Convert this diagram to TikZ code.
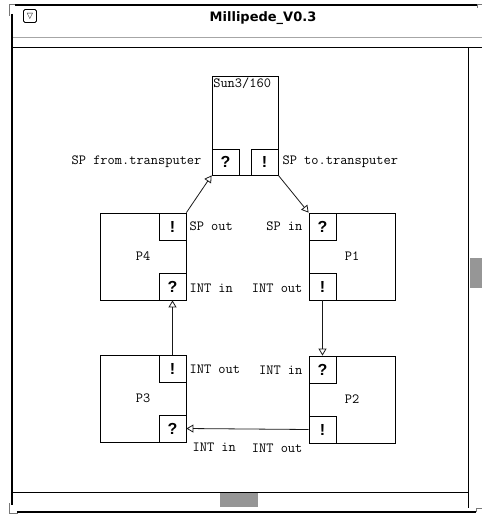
\documentclass[tikz,border=0pt]{standalone}
\usepackage{fontspec}
\usepackage{tikz}
\usetikzlibrary{arrows.meta, positioning, calc}
\newfontfamily\portfont{Liberation Sans}
\newfontfamily\titlefont{DejaVu Sans}
\definecolor{cFrame}{RGB}{120,120,120}
\definecolor{cThumb}{RGB}{150,150,150}
\tikzset{
	proc/.style   ={rectangle, draw=black, line width=0.8pt, minimum width=86pt, minimum height=87pt, inner sep=0pt, font=\ttfamily\fontsize{14}{16}\selectfont},
	host/.style   ={rectangle, draw=black, line width=0.8pt, minimum width=66pt, minimum height=99pt, inner sep=0pt},
	port/.style   ={rectangle, draw=black, line width=0.8pt, minimum width=27pt, minimum height=27pt, inner sep=0pt, font=\portfont\bfseries\fontsize{16}{16}\selectfont},
	lbl/.style    ={inner sep=0pt, font=\ttfamily\fontsize{14}{16}\selectfont},
	link/.style   ={-{Triangle[open, length=7pt, width=8pt]}, line width=0.8pt, black!90},
	winline/.style={line width=2.4pt, black},
}
\begin{document}
\begin{tikzpicture}[x=1pt, y=-1pt]
	\useasboundingbox (0,0) rectangle (482,516);
	% window frame
	\draw[cFrame, line width=0.8pt] (9,16) -- (9,4) -- (16,4);
	\draw[cFrame, line width=0.8pt] (9,503) -- (9,513) -- (18,513);
	\draw[cFrame, line width=0.8pt] (477,8) -- (477,4) -- (482,4);
	\draw[cFrame, line width=0.8pt] (476,512) -- (476,508) -- (482,508);
	\draw[winline] (15,5) -- (477,5);
	\draw[winline] (12,14) -- (12,505);
	\draw[winline] (17,512) -- (476,512);
	\draw[black!35, line width=0.6pt] (13,37) -- (482,37);
	\draw[line width=0.8pt] (13,47) -- (482,47);
	\draw[line width=0.8pt] (468,47) -- (468,508);
	\draw[line width=0.8pt] (13,492) -- (468,492);
	\fill[cThumb] (220,493) rectangle (258,507);
	\fill[cThumb] (470,258) rectangle (482,288);
	\node[draw, rounded corners=1.5pt, line width=0.9pt, minimum size=13pt, inner sep=0pt, font=\titlefont\fontsize{8}{8}\selectfont] (menu) at (30,16) {▽};
	\node[font=\titlefont\bfseries\fontsize{13}{13}\selectfont] (title) at (263,18) {Millipede\_V0.3};
	% host and processors
	\node[host] (sun) at (245,125.5) {};
	\node[anchor=north west, inner sep=1.5pt, font=\ttfamily\fontsize{14}{16}\selectfont] (sunname) at (sun.north west) {Sun3/160};
	\node[port, anchor=south west, minimum height=26pt] (sunin) at (sun.south west) {?};
	\node[port, anchor=south east, minimum height=26pt] (sunout) at (sun.south east) {!};
	\node[proc] (p4) at (143,256.5) {P4};
	\node[proc] (p1) at (352,256.5) {P1};
	\node[proc] (p3) at (143,398.5) {P3};
	\node[proc] (p2) at (352,399.5) {P2};
	\node[port, anchor=north east] (p4out) at (p4.north east) {!};
	\node[port, anchor=south east] (p4in) at (p4.south east) {?};
	\node[port, anchor=north west] (p1in) at (p1.north west) {?};
	\node[port, anchor=south west] (p1out) at (p1.south west) {!};
	\node[port, anchor=north east] (p3out) at (p3.north east) {!};
	\node[port, anchor=south east] (p3in) at (p3.south east) {?};
	\node[port, anchor=north west] (p2in) at (p2.north west) {?};
	\node[port, anchor=south west] (p2out) at (p2.south west) {!};
	% port labels
	\node[lbl, left=10pt of sunin] (lsunin) {SP from.transputer};
	\node[lbl, right=4pt of sunout] (lsunout) {SP to.transputer};
	\node[lbl, right=3pt of p4out] (lp4out) {SP out};
	\node[lbl, right=3pt of p4in, yshift=-2pt] (lp4in) {INT in};
	\node[lbl, left=6pt of p1in] (lp1in) {SP in};
	\node[lbl, left=6pt of p1out, yshift=-2pt] (lp1out) {INT out};
	\node[lbl, right=3pt of p3out, yshift=-1pt] (lp3out) {INT out};
	\node[lbl, left=6pt of p2in, yshift=-1pt] (lp2in) {INT in};
	\node[lbl, below right=0pt and 6pt of p3in.south east] (lp3in) {INT in};
	\node[lbl, below left=0pt and 6pt of p2out.south west] (lp2out) {INT out};
	% links
	\draw[link] (p4out.north east) -- (sunin.south west);
	\draw[link] (sunout.south east) -- (p1in.north west);
	\draw[link] (p1out.south) -- (p2in.north);
	\draw[link] (p2out.west) -- (p3in.east);
	\draw[link] (p3out.north) -- (p4in.south);
\end{tikzpicture}
\end{document}
